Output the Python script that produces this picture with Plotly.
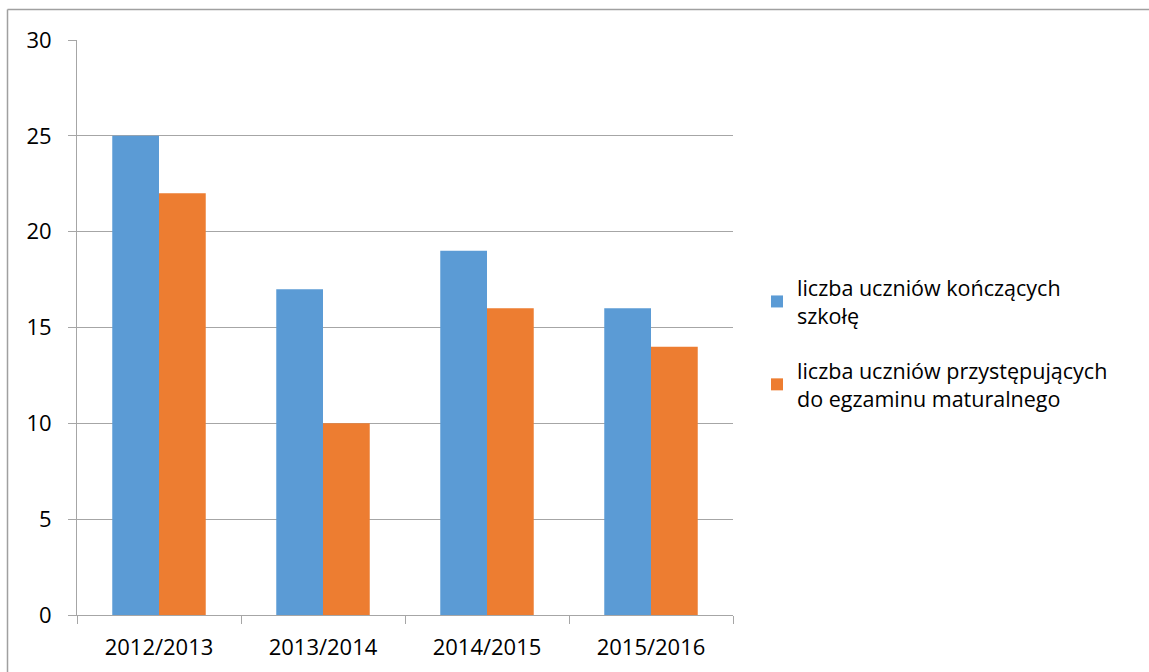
import plotly.graph_objects as go

categories = ["2012/2013", "2013/2014", "2014/2015", "2015/2016"]
konczacy = [25, 17, 19, 16]
przystepujacy = [22, 10, 16, 14]
series_names = ["liczba uczniów kończących<br>szkołę",
                "liczba uczniów przystępujących<br>do egzaminu maturalnego"]
y_ticks = [0, 5, 10, 15, 20, 25, 30]

W, H = 1149, 672
L, R, T, B = 77, 416, 40, 57
pw, ph = W - L - R, H - T - B

def px(x):
    return (x - L) / pw

def py(y):
    return (H - B - y) / ph

fig = go.Figure()
fig.add_trace(go.Bar(x=categories, y=konczacy, name=series_names[0], legendgroup="a",
                     marker=dict(color="#5B9BD5", line=dict(width=0))))
fig.add_trace(go.Bar(x=categories, y=przystepujacy, name=series_names[1], legendgroup="b",
                     marker=dict(color="#ED7D31", line=dict(width=0))))

fig.update_layout(
    width=W, height=H,
    margin=dict(l=L, r=R, t=T, b=B, pad=0),
    paper_bgcolor="white", plot_bgcolor="white",
    barmode="group", bargap=0.43, bargroupgap=0,
    font=dict(family="Open Sans, Noto Sans, sans-serif", size=22, color="#000000"),
    showlegend=True,
    legend=dict(x=px(757), y=py(267), xanchor="left", yanchor="top",
                font=dict(size=21.5), itemwidth=30, tracegroupgap=24,
                bgcolor="rgba(0,0,0,0)"),
    xaxis=dict(showgrid=False, showline=True, linecolor="#A6A6A6", linewidth=1,
               ticks="outside", ticklen=8, tickcolor="#A6A6A6",
               tickson="boundaries", tickfont=dict(size=22), ticklabelstandoff=13),
    yaxis=dict(range=[0, 30], tickvals=y_ticks, showgrid=True, gridcolor="#A6A6A6",
               gridwidth=1, showline=True, linecolor="#A6A6A6", linewidth=1,
               ticks="outside", ticklen=8, tickcolor="#A6A6A6", zeroline=False,
               tickfont=dict(size=22), ticklabelstandoff=12),
    shapes=[
        dict(type="line", xref="paper", yref="paper", x0=px(7.5), x1=px(1149),
             y0=py(9.5), y1=py(9.5), line=dict(color="#A0A0A0", width=1.5)),
        dict(type="line", xref="paper", yref="paper", x0=px(7.5), x1=px(7.5),
             y0=py(9.5), y1=py(672), line=dict(color="#A0A0A0", width=1.5)),
    ],
)

fig.write_html("out.html", config={"displayModeBar": False},
               post_script="document.body.style.margin='0';document.body.style.overflow='hidden';")
